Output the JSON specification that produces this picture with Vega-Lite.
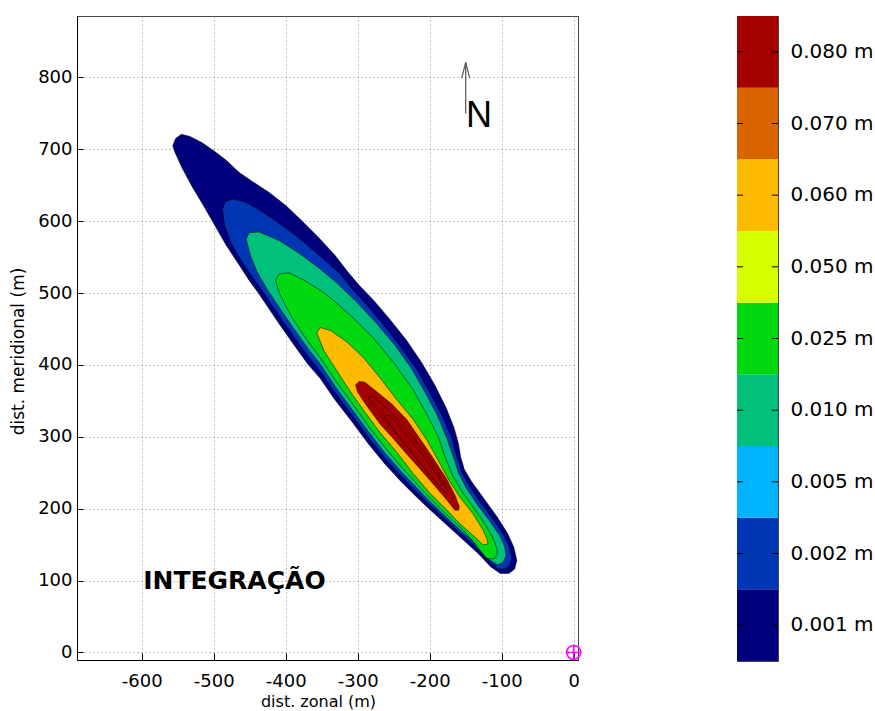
{
  "$schema": "https://vega.github.io/schema/vega-lite/v6.json",
  "padding": {"left": 9, "top": 15, "right": 0, "bottom": 0},
  "bounds": "flush",
  "spacing": 159,
  "config": {
    "font": "DejaVu Sans",
    "view": {"stroke": "#444", "strokeWidth": 1},
    "axis": {"labelFont": "DejaVu Sans", "titleFont": "DejaVu Sans", "labelColor": "#000", "titleColor": "#000", "titleFontWeight": "normal", "domainColor": "#000", "tickColor": "#000", "gridColor": "#888", "gridDash": [1, 3], "gridOpacity": 1}
  },
  "hconcat": [
    {
      "width": 501,
      "height": 644,
      "layer": [
        {
          "data": {"values": [
            {"g":1,"lev":"0.001 m","x":-557,"y":705},{"g":1,"lev":"0.001 m","x":-553,"y":715},{"g":1,"lev":"0.001 m","x":-545,"y":721},{"g":1,"lev":"0.001 m","x":-533,"y":718},{"g":1,"lev":"0.001 m","x":-516,"y":709},{"g":1,"lev":"0.001 m","x":-500,"y":698},{"g":1,"lev":"0.001 m","x":-483,"y":685},{"g":1,"lev":"0.001 m","x":-465,"y":668},{"g":1,"lev":"0.001 m","x":-446,"y":655},{"g":1,"lev":"0.001 m","x":-423,"y":640},{"g":1,"lev":"0.001 m","x":-400,"y":622},{"g":1,"lev":"0.001 m","x":-378,"y":601},{"g":1,"lev":"0.001 m","x":-355,"y":578},{"g":1,"lev":"0.001 m","x":-332,"y":553},{"g":1,"lev":"0.001 m","x":-315,"y":531},{"g":1,"lev":"0.001 m","x":-299,"y":512},{"g":1,"lev":"0.001 m","x":-278,"y":490},{"g":1,"lev":"0.001 m","x":-255,"y":463},{"g":1,"lev":"0.001 m","x":-232,"y":434},{"g":1,"lev":"0.001 m","x":-211,"y":403},{"g":1,"lev":"0.001 m","x":-193,"y":372},{"g":1,"lev":"0.001 m","x":-177,"y":340},{"g":1,"lev":"0.001 m","x":-166,"y":312},{"g":1,"lev":"0.001 m","x":-160,"y":290},{"g":1,"lev":"0.001 m","x":-157,"y":272},{"g":1,"lev":"0.001 m","x":-152,"y":255},{"g":1,"lev":"0.001 m","x":-142,"y":238},{"g":1,"lev":"0.001 m","x":-124,"y":213},{"g":1,"lev":"0.001 m","x":-106,"y":188},{"g":1,"lev":"0.001 m","x":-92,"y":166},{"g":1,"lev":"0.001 m","x":-83,"y":146},{"g":1,"lev":"0.001 m","x":-79,"y":128},{"g":1,"lev":"0.001 m","x":-82,"y":116},{"g":1,"lev":"0.001 m","x":-90,"y":110},{"g":1,"lev":"0.001 m","x":-102,"y":110},{"g":1,"lev":"0.001 m","x":-115,"y":119},{"g":1,"lev":"0.001 m","x":-132,"y":137},{"g":1,"lev":"0.001 m","x":-154,"y":157},{"g":1,"lev":"0.001 m","x":-177,"y":178},{"g":1,"lev":"0.001 m","x":-200,"y":199},{"g":1,"lev":"0.001 m","x":-220,"y":218},{"g":1,"lev":"0.001 m","x":-240,"y":238},{"g":1,"lev":"0.001 m","x":-262,"y":262},{"g":1,"lev":"0.001 m","x":-285,"y":290},{"g":1,"lev":"0.001 m","x":-308,"y":321},{"g":1,"lev":"0.001 m","x":-332,"y":352},{"g":1,"lev":"0.001 m","x":-352,"y":381},{"g":1,"lev":"0.001 m","x":-370,"y":402},{"g":1,"lev":"0.001 m","x":-390,"y":430},{"g":1,"lev":"0.001 m","x":-409,"y":457},{"g":1,"lev":"0.001 m","x":-438,"y":500},{"g":1,"lev":"0.001 m","x":-451,"y":518},{"g":1,"lev":"0.001 m","x":-466,"y":541},{"g":1,"lev":"0.001 m","x":-483,"y":567},{"g":1,"lev":"0.001 m","x":-499,"y":595},{"g":1,"lev":"0.001 m","x":-515,"y":623},{"g":1,"lev":"0.001 m","x":-530,"y":648},{"g":1,"lev":"0.001 m","x":-544,"y":674},{"g":1,"lev":"0.001 m","x":-554,"y":696},
            {"g":2,"lev":"0.002 m","x":-488,"y":616},{"g":2,"lev":"0.002 m","x":-484,"y":627},{"g":2,"lev":"0.002 m","x":-473,"y":631},{"g":2,"lev":"0.002 m","x":-455,"y":626},{"g":2,"lev":"0.002 m","x":-437,"y":616},{"g":2,"lev":"0.002 m","x":-409,"y":597},{"g":2,"lev":"0.002 m","x":-381,"y":576},{"g":2,"lev":"0.002 m","x":-354,"y":553},{"g":2,"lev":"0.002 m","x":-326,"y":528},{"g":2,"lev":"0.002 m","x":-307,"y":505},{"g":2,"lev":"0.002 m","x":-288,"y":484},{"g":2,"lev":"0.002 m","x":-265,"y":457},{"g":2,"lev":"0.002 m","x":-241,"y":426},{"g":2,"lev":"0.002 m","x":-218,"y":394},{"g":2,"lev":"0.002 m","x":-200,"y":362},{"g":2,"lev":"0.002 m","x":-183,"y":330},{"g":2,"lev":"0.002 m","x":-170,"y":300},{"g":2,"lev":"0.002 m","x":-162,"y":272},{"g":2,"lev":"0.002 m","x":-155,"y":250},{"g":2,"lev":"0.002 m","x":-145,"y":232},{"g":2,"lev":"0.002 m","x":-129,"y":208},{"g":2,"lev":"0.002 m","x":-111,"y":184},{"g":2,"lev":"0.002 m","x":-97,"y":163},{"g":2,"lev":"0.002 m","x":-89,"y":146},{"g":2,"lev":"0.002 m","x":-86,"y":131},{"g":2,"lev":"0.002 m","x":-89,"y":121},{"g":2,"lev":"0.002 m","x":-96,"y":116},{"g":2,"lev":"0.002 m","x":-105,"y":116},{"g":2,"lev":"0.002 m","x":-115,"y":125},{"g":2,"lev":"0.002 m","x":-132,"y":143},{"g":2,"lev":"0.002 m","x":-154,"y":163},{"g":2,"lev":"0.002 m","x":-177,"y":184},{"g":2,"lev":"0.002 m","x":-200,"y":206},{"g":2,"lev":"0.002 m","x":-220,"y":225},{"g":2,"lev":"0.002 m","x":-240,"y":246},{"g":2,"lev":"0.002 m","x":-262,"y":270},{"g":2,"lev":"0.002 m","x":-285,"y":299},{"g":2,"lev":"0.002 m","x":-308,"y":330},{"g":2,"lev":"0.002 m","x":-332,"y":362},{"g":2,"lev":"0.002 m","x":-352,"y":391},{"g":2,"lev":"0.002 m","x":-370,"y":413},{"g":2,"lev":"0.002 m","x":-390,"y":441},{"g":2,"lev":"0.002 m","x":-409,"y":468},{"g":2,"lev":"0.002 m","x":-438,"y":511},{"g":2,"lev":"0.002 m","x":-451,"y":529},{"g":2,"lev":"0.002 m","x":-466,"y":552},{"g":2,"lev":"0.002 m","x":-477,"y":572},{"g":2,"lev":"0.002 m","x":-485,"y":595},
            {"g":3,"lev":"0.010 m","x":-455,"y":575},{"g":3,"lev":"0.010 m","x":-451,"y":584},{"g":3,"lev":"0.010 m","x":-437,"y":585},{"g":3,"lev":"0.010 m","x":-409,"y":573},{"g":3,"lev":"0.010 m","x":-381,"y":555},{"g":3,"lev":"0.010 m","x":-354,"y":535},{"g":3,"lev":"0.010 m","x":-330,"y":515},{"g":3,"lev":"0.010 m","x":-302,"y":488},{"g":3,"lev":"0.010 m","x":-274,"y":458},{"g":3,"lev":"0.010 m","x":-248,"y":427},{"g":3,"lev":"0.010 m","x":-226,"y":396},{"g":3,"lev":"0.010 m","x":-207,"y":363},{"g":3,"lev":"0.010 m","x":-190,"y":331},{"g":3,"lev":"0.010 m","x":-177,"y":300},{"g":3,"lev":"0.010 m","x":-167,"y":272},{"g":3,"lev":"0.010 m","x":-160,"y":250},{"g":3,"lev":"0.010 m","x":-150,"y":230},{"g":3,"lev":"0.010 m","x":-134,"y":206},{"g":3,"lev":"0.010 m","x":-116,"y":182},{"g":3,"lev":"0.010 m","x":-103,"y":163},{"g":3,"lev":"0.010 m","x":-96,"y":148},{"g":3,"lev":"0.010 m","x":-94,"y":135},{"g":3,"lev":"0.010 m","x":-98,"y":125},{"g":3,"lev":"0.010 m","x":-106,"y":122},{"g":3,"lev":"0.010 m","x":-120,"y":131},{"g":3,"lev":"0.010 m","x":-132,"y":148},{"g":3,"lev":"0.010 m","x":-154,"y":167},{"g":3,"lev":"0.010 m","x":-177,"y":188},{"g":3,"lev":"0.010 m","x":-200,"y":210},{"g":3,"lev":"0.010 m","x":-220,"y":231},{"g":3,"lev":"0.010 m","x":-240,"y":252},{"g":3,"lev":"0.010 m","x":-262,"y":277},{"g":3,"lev":"0.010 m","x":-285,"y":307},{"g":3,"lev":"0.010 m","x":-308,"y":338},{"g":3,"lev":"0.010 m","x":-332,"y":371},{"g":3,"lev":"0.010 m","x":-352,"y":401},{"g":3,"lev":"0.010 m","x":-370,"y":424},{"g":3,"lev":"0.010 m","x":-390,"y":452},{"g":3,"lev":"0.010 m","x":-409,"y":480},{"g":3,"lev":"0.010 m","x":-427,"y":507},{"g":3,"lev":"0.010 m","x":-440,"y":530},{"g":3,"lev":"0.010 m","x":-449,"y":552},
            {"g":4,"lev":"0.025 m","x":-414,"y":518},{"g":4,"lev":"0.025 m","x":-409,"y":527},{"g":4,"lev":"0.025 m","x":-395,"y":528},{"g":4,"lev":"0.025 m","x":-375,"y":518},{"g":4,"lev":"0.025 m","x":-352,"y":504},{"g":4,"lev":"0.025 m","x":-335,"y":491},{"g":4,"lev":"0.025 m","x":-306,"y":465},{"g":4,"lev":"0.025 m","x":-277,"y":436},{"g":4,"lev":"0.025 m","x":-250,"y":403},{"g":4,"lev":"0.025 m","x":-224,"y":367},{"g":4,"lev":"0.025 m","x":-205,"y":333},{"g":4,"lev":"0.025 m","x":-188,"y":300},{"g":4,"lev":"0.025 m","x":-178,"y":270},{"g":4,"lev":"0.025 m","x":-168,"y":246},{"g":4,"lev":"0.025 m","x":-155,"y":224},{"g":4,"lev":"0.025 m","x":-140,"y":203},{"g":4,"lev":"0.025 m","x":-124,"y":180},{"g":4,"lev":"0.025 m","x":-113,"y":161},{"g":4,"lev":"0.025 m","x":-107,"y":146},{"g":4,"lev":"0.025 m","x":-106,"y":136},{"g":4,"lev":"0.025 m","x":-111,"y":130},{"g":4,"lev":"0.025 m","x":-121,"y":131},{"g":4,"lev":"0.025 m","x":-130,"y":142},{"g":4,"lev":"0.025 m","x":-140,"y":155},{"g":4,"lev":"0.025 m","x":-154,"y":171},{"g":4,"lev":"0.025 m","x":-177,"y":192},{"g":4,"lev":"0.025 m","x":-200,"y":215},{"g":4,"lev":"0.025 m","x":-220,"y":237},{"g":4,"lev":"0.025 m","x":-240,"y":259},{"g":4,"lev":"0.025 m","x":-262,"y":285},{"g":4,"lev":"0.025 m","x":-285,"y":315},{"g":4,"lev":"0.025 m","x":-308,"y":347},{"g":4,"lev":"0.025 m","x":-332,"y":380},{"g":4,"lev":"0.025 m","x":-352,"y":410},{"g":4,"lev":"0.025 m","x":-370,"y":434},{"g":4,"lev":"0.025 m","x":-390,"y":464},{"g":4,"lev":"0.025 m","x":-400,"y":482},{"g":4,"lev":"0.025 m","x":-409,"y":500},
            {"g":5,"lev":"0.060 m","x":-357,"y":445},{"g":5,"lev":"0.060 m","x":-352,"y":452},{"g":5,"lev":"0.060 m","x":-338,"y":448},{"g":5,"lev":"0.060 m","x":-315,"y":432},{"g":5,"lev":"0.060 m","x":-292,"y":410},{"g":5,"lev":"0.060 m","x":-269,"y":382},{"g":5,"lev":"0.060 m","x":-246,"y":352},{"g":5,"lev":"0.060 m","x":-223,"y":324},{"g":5,"lev":"0.060 m","x":-203,"y":294},{"g":5,"lev":"0.060 m","x":-187,"y":265},{"g":5,"lev":"0.060 m","x":-173,"y":239},{"g":5,"lev":"0.060 m","x":-158,"y":216},{"g":5,"lev":"0.060 m","x":-140,"y":193},{"g":5,"lev":"0.060 m","x":-127,"y":172},{"g":5,"lev":"0.060 m","x":-120,"y":157},{"g":5,"lev":"0.060 m","x":-119,"y":151},{"g":5,"lev":"0.060 m","x":-126,"y":150},{"g":5,"lev":"0.060 m","x":-140,"y":163},{"g":5,"lev":"0.060 m","x":-159,"y":180},{"g":5,"lev":"0.060 m","x":-177,"y":199},{"g":5,"lev":"0.060 m","x":-200,"y":222},{"g":5,"lev":"0.060 m","x":-223,"y":249},{"g":5,"lev":"0.060 m","x":-246,"y":279},{"g":5,"lev":"0.060 m","x":-269,"y":306},{"g":5,"lev":"0.060 m","x":-292,"y":337},{"g":5,"lev":"0.060 m","x":-311,"y":364},{"g":5,"lev":"0.060 m","x":-329,"y":392},{"g":5,"lev":"0.060 m","x":-347,"y":420},
            {"g":6,"lev":"0.080 m","x":-303,"y":372},{"g":6,"lev":"0.080 m","x":-298,"y":377},{"g":6,"lev":"0.080 m","x":-290,"y":376},{"g":6,"lev":"0.080 m","x":-274,"y":363},{"g":6,"lev":"0.080 m","x":-253,"y":346},{"g":6,"lev":"0.080 m","x":-232,"y":324},{"g":6,"lev":"0.080 m","x":-214,"y":298},{"g":6,"lev":"0.080 m","x":-195,"y":270},{"g":6,"lev":"0.080 m","x":-177,"y":242},{"g":6,"lev":"0.080 m","x":-165,"y":219},{"g":6,"lev":"0.080 m","x":-159,"y":203},{"g":6,"lev":"0.080 m","x":-160,"y":198},{"g":6,"lev":"0.080 m","x":-165,"y":198},{"g":6,"lev":"0.080 m","x":-177,"y":213},{"g":6,"lev":"0.080 m","x":-195,"y":234},{"g":6,"lev":"0.080 m","x":-214,"y":256},{"g":6,"lev":"0.080 m","x":-232,"y":276},{"g":6,"lev":"0.080 m","x":-251,"y":298},{"g":6,"lev":"0.080 m","x":-269,"y":318},{"g":6,"lev":"0.080 m","x":-288,"y":344},{"g":6,"lev":"0.080 m","x":-300,"y":362},
            {"g":7,"lev":"0.080 m","x":-285,"y":356},{"g":7,"lev":"0.080 m","x":-278,"y":356},{"g":7,"lev":"0.080 m","x":-255,"y":335},{"g":7,"lev":"0.080 m","x":-230,"y":307},{"g":7,"lev":"0.080 m","x":-205,"y":276},{"g":7,"lev":"0.080 m","x":-185,"y":245},{"g":7,"lev":"0.080 m","x":-175,"y":225},{"g":7,"lev":"0.080 m","x":-178,"y":222},{"g":7,"lev":"0.080 m","x":-190,"y":235},{"g":7,"lev":"0.080 m","x":-212,"y":262},{"g":7,"lev":"0.080 m","x":-237,"y":293},{"g":7,"lev":"0.080 m","x":-262,"y":325},{"g":7,"lev":"0.080 m","x":-283,"y":350},
            {"g":8,"lev":"0.080 m","x":-262,"y":330},{"g":8,"lev":"0.080 m","x":-256,"y":330},{"g":8,"lev":"0.080 m","x":-235,"y":306},{"g":8,"lev":"0.080 m","x":-212,"y":278},{"g":8,"lev":"0.080 m","x":-192,"y":250},{"g":8,"lev":"0.080 m","x":-182,"y":234},{"g":8,"lev":"0.080 m","x":-186,"y":232},{"g":8,"lev":"0.080 m","x":-198,"y":245},{"g":8,"lev":"0.080 m","x":-220,"y":272},{"g":8,"lev":"0.080 m","x":-243,"y":301},{"g":8,"lev":"0.080 m","x":-262,"y":326}
          ]},
          "mark": {"type": "line", "filled": true, "interpolate": "linear-closed", "stroke": "#000", "strokeWidth": 0.6, "strokeOpacity": 0.85},
          "encoding": {
            "x": {"field": "x", "type": "quantitative", "scale": {"domain": [-690, 6], "nice": false, "zero": false},
                  "axis": {"title": "dist. zonal (m)", "values": [-600, -500, -400, -300, -200, -100, 0], "labelExpr": "datum.value == 0 ? '0' : '-' + abs(datum.value)", "labelFontSize": 18, "titleFontSize": 16, "tickSize": -7, "labelPadding": 19, "titlePadding": 3, "titleX": 241, "grid": true}},
            "y": {"field": "y", "type": "quantitative", "scale": {"domain": [-10.5, 885.5], "nice": false, "zero": false},
                  "axis": {"title": "dist. meridional (m)", "values": [0, 100, 200, 300, 400, 500, 600, 700, 800], "labelFontSize": 18, "titleFontSize": 17, "tickSize": -6, "labelPadding": 11, "titlePadding": 10, "titleY": 335, "grid": true}},
            "color": {"field": "lev", "type": "ordinal",
                      "scale": {"domain": ["0.001 m", "0.002 m", "0.005 m", "0.010 m", "0.025 m", "0.050 m", "0.060 m", "0.070 m", "0.080 m"],
                                "range": ["#00007c", "#0035b3", "#00b4ff", "#00c07c", "#00d80f", "#d8ff00", "#ffbb00", "#da6500", "#a50000"]},
                      "legend": null},
            "detail": {"field": "g", "type": "nominal"},
            "order": {"value": null}
          }
        },
        {
          "data": {"values": [
            {"p": "s", "x": -150, "y": 750}, {"p": "s", "x": -150, "y": 821},
            {"p": "h", "x": -155.5, "y": 799}, {"p": "h", "x": -150, "y": 821}, {"p": "h", "x": -144.5, "y": 799}
          ]},
          "mark": {"type": "line", "color": "#555", "strokeWidth": 1.2},
          "encoding": {
            "x": {"field": "x", "type": "quantitative"},
            "y": {"field": "y", "type": "quantitative"},
            "detail": {"field": "p", "type": "nominal"},
            "order": {"value": null}
          }
        },
        {
          "data": {"values": [{"x": -131.5, "y": 731, "t": "N"}]},
          "mark": {"type": "text", "font": "Liberation Sans", "fontSize": 36, "align": "center", "baseline": "alphabetic", "color": "#000"},
          "encoding": {
            "x": {"field": "x", "type": "quantitative"},
            "y": {"field": "y", "type": "quantitative"},
            "text": {"field": "t"}
          }
        },
        {
          "data": {"values": [{"x": -598, "y": 100, "t": "INTEGRAÇÃO"}]},
          "mark": {"type": "text", "font": "DejaVu Sans", "fontSize": 25, "fontWeight": "bold", "align": "left", "baseline": "middle", "color": "#000"},
          "encoding": {
            "x": {"field": "x", "type": "quantitative"},
            "y": {"field": "y", "type": "quantitative"},
            "text": {"field": "t"}
          }
        },
        {
          "data": {"values": [{"x": 0, "y": 0}]},
          "mark": {"type": "point", "shape": "M-1,0A1,1,0,1,1,1,0A1,1,0,1,1,-1,0ZM-1,0L1,0M0,-1L0,1", "size": 196, "color": "#ff00ff", "stroke": "#ff00ff", "strokeWidth": 1.6, "filled": false, "opacity": 1},
          "encoding": {
            "x": {"field": "x", "type": "quantitative"},
            "y": {"field": "y", "type": "quantitative"}
          }
        }
      ]
    },
    {
      "width": 41,
      "height": 645,
      "data": {"values": [
        {"lev": "0.001 m"}, {"lev": "0.002 m"}, {"lev": "0.005 m"}, {"lev": "0.010 m"}, {"lev": "0.025 m"},
        {"lev": "0.050 m"}, {"lev": "0.060 m"}, {"lev": "0.070 m"}, {"lev": "0.080 m"}
      ]},
      "layer": [
        {
          "mark": {"type": "rect"},
          "encoding": {
            "y": {"field": "lev", "type": "ordinal", "sort": ["0.080 m", "0.070 m", "0.060 m", "0.050 m", "0.025 m", "0.010 m", "0.005 m", "0.002 m", "0.001 m"],
                  "scale": {"paddingInner": 0, "paddingOuter": 0},
                  "axis": {"orient": "right", "title": null, "ticks": false, "domain": false, "labelFontSize": 20, "labelPadding": 12, "labelColor": "#000"}},
            "x": {"datum": 0, "type": "quantitative", "scale": {"domain": [0, 1], "nice": false}, "axis": null},
            "x2": {"datum": 1},
            "color": {"field": "lev", "type": "ordinal",
                      "scale": {"domain": ["0.001 m", "0.002 m", "0.005 m", "0.010 m", "0.025 m", "0.050 m", "0.060 m", "0.070 m", "0.080 m"],
                                "range": ["#00007c", "#0035b3", "#00b4ff", "#00c07c", "#00d80f", "#d8ff00", "#ffbb00", "#da6500", "#a50000"]},
                      "legend": null}
          }
        },
        {
          "mark": {"type": "rule", "color": "#000", "strokeWidth": 1},
          "encoding": {
            "y": {"field": "lev", "type": "ordinal", "sort": ["0.080 m", "0.070 m", "0.060 m", "0.050 m", "0.025 m", "0.010 m", "0.005 m", "0.002 m", "0.001 m"]},
            "x": {"datum": 0, "type": "quantitative"},
            "x2": {"datum": 0.15}
          }
        },
        {
          "mark": {"type": "rule", "color": "#000", "strokeWidth": 1},
          "encoding": {
            "y": {"field": "lev", "type": "ordinal", "sort": ["0.080 m", "0.070 m", "0.060 m", "0.050 m", "0.025 m", "0.010 m", "0.005 m", "0.002 m", "0.001 m"]},
            "x": {"datum": 0.85, "type": "quantitative"},
            "x2": {"datum": 1}
          }
        }
      ]
    }
  ]
}
